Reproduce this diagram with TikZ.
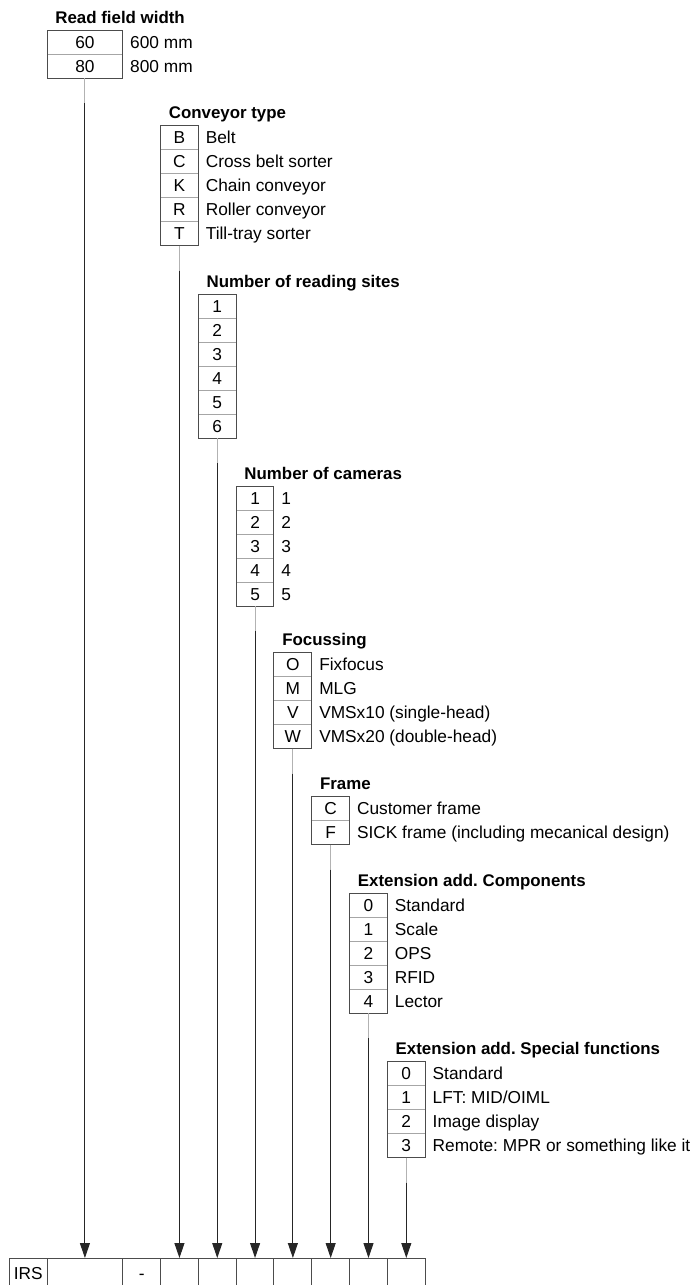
\documentclass[tikz,border=0pt]{standalone}
\usepackage{fontspec}
\setmainfont{Liberation Sans}
\usetikzlibrary{arrows.meta,positioning}
\frenchspacing

\tikzset{
  cell/.style={draw=black!35, line width=0.7pt, minimum width=0.945cm, minimum height=0.6cm,
    inner sep=0pt, outer sep=0pt, text height=8.8pt, text depth=0pt, anchor=north},
  wide/.style={minimum width=1.89cm},
  slot/.style={draw=black!70, line width=0.7pt, minimum width=0.945cm, minimum height=0.75cm,
    inner sep=0pt, outer sep=0pt, text height=8.8pt, text depth=0pt},
  boxline/.style={draw=black!70, line width=0.7pt},
  head/.style={font=\fontsize{12}{14}\selectfont\bfseries, anchor=base west, inner sep=0pt},
  opt/.style={inner sep=0pt, text height=8.8pt, text depth=0pt},
  lead/.style={draw=black!30, line width=0.7pt},
  feed/.style={draw=black!85, line width=0.7pt, -{Triangle[length=0.375cm,width=0.25cm]}},
}

\begin{document}
\frenchspacing
\begin{tikzpicture}[x=0.025cm, y=-0.025cm, font=\fontsize{12.3}{14}\selectfont]
	\useasboundingbox (0,0) rectangle (696,1285);
	% type code row
	\node[slot, anchor=north west] (s1) at (9.3,1258) {IRS};
	\node[slot, wide, right=0pt of s1] (s2) {};
	\node[slot, right=0pt of s2] (s3) {-};
	\foreach \i [remember=\i as \j (initially 3)] in {4,...,10}
		\node[slot, right=0pt of s\j] (s\i) {};
	% read field width
	\foreach \c/\t [count=\i] in {60/600 mm, 80/800 mm} {
		\node[cell, wide] (rfw\i) at (s2 |- 0,{6+24*\i}) {\c};
		\node[opt, right=0.18cm of rfw\i] (rfwt\i) {\t};
	}
	\draw[boxline] (rfw1.north west) rectangle (rfw2.south east);
	\node[head] (rfwh) at ([xshift=0.2cm, yshift=0.175cm]rfw1.north west) {Read field width};
	\coordinate (rfwk) at ([yshift=-0.625cm]rfw2.south);
	\draw[lead] (rfw2.south) -- (rfwk);
	\draw[feed] (rfwk) -- (s2.north);
	% conveyor type
	\foreach \c/\t [count=\i] in {B/Belt, C/Cross belt sorter, K/Chain conveyor, R/Roller conveyor, T/Till-tray sorter} {
		\node[cell] (conv\i) at (s4 |- 0,{101.7+24*\i}) {\c};
		\node[opt, right=0.18cm of conv\i] (convt\i) {\t};
	}
	\draw[boxline] (conv1.north west) rectangle (conv5.south east);
	\node[head] (convh) at ([xshift=0.2cm, yshift=0.175cm]conv1.north west) {Conveyor type};
	\coordinate (convk) at ([yshift=-0.625cm]conv5.south);
	\draw[lead] (conv5.south) -- (convk);
	\draw[feed] (convk) -- (s4.north);
	% number of reading sites
	\foreach \c [count=\i] in {1,...,6}
		\node[cell] (site\i) at (s5 |- 0,{270+24*\i}) {\c};
	\draw[boxline] (site1.north west) rectangle (site6.south east);
	\node[head] (siteh) at ([xshift=0.2cm, yshift=0.175cm]site1.north west) {Number of reading sites};
	\coordinate (sitek) at ([yshift=-0.625cm]site6.south);
	\draw[lead] (site6.south) -- (sitek);
	\draw[feed] (sitek) -- (s5.north);
	% number of cameras
	\foreach \c/\t [count=\i] in {1/1, 2/2, 3/3, 4/4, 5/5} {
		\node[cell] (cam\i) at (s6 |- 0,{462+24*\i}) {\c};
		\node[opt, right=0.18cm of cam\i] (camt\i) {\t};
	}
	\draw[boxline] (cam1.north west) rectangle (cam5.south east);
	\node[head] (camh) at ([xshift=0.2cm, yshift=0.175cm]cam1.north west) {Number of cameras};
	\coordinate (camk) at ([yshift=-0.625cm]cam5.south);
	\draw[lead] (cam5.south) -- (camk);
	\draw[feed] (camk) -- (s6.north);
	% focussing
	\foreach \c/\t [count=\i] in {O/Fixfocus, M/MLG, V/VMSx10 (single-head), W/VMSx20 (double-head)} {
		\node[cell] (foc\i) at (s7 |- 0,{628.7+24*\i}) {\c};
		\node[opt, right=0.18cm of foc\i] (foct\i) {\t};
	}
	\draw[boxline] (foc1.north west) rectangle (foc4.south east);
	\node[head] (foch) at ([xshift=0.2cm, yshift=0.175cm]foc1.north west) {Focussing};
	\coordinate (fock) at ([yshift=-0.625cm]foc4.south);
	\draw[lead] (foc4.south) -- (fock);
	\draw[feed] (fock) -- (s7.north);
	% frame
	\foreach \c/\t [count=\i] in {C/Customer frame, F/SICK frame (including mecanical design)} {
		\node[cell] (frm\i) at (s8 |- 0,{772.7+24*\i}) {\c};
		\node[opt, right=0.18cm of frm\i] (frmt\i) {\t};
	}
	\draw[boxline] (frm1.north west) rectangle (frm2.south east);
	\node[head] (frmh) at ([xshift=0.2cm, yshift=0.175cm]frm1.north west) {Frame};
	\coordinate (frmk) at ([yshift=-0.625cm]frm2.south);
	\draw[lead] (frm2.south) -- (frmk);
	\draw[feed] (frmk) -- (s8.north);
	% extension add. components
	\foreach \c/\t [count=\i] in {0/Standard, 1/Scale, 2/OPS, 3/RFID, 4/Lector} {
		\node[cell] (comp\i) at (s9 |- 0,{869.3+24*\i}) {\c};
		\node[opt, right=0.18cm of comp\i] (compt\i) {\t};
	}
	\draw[boxline] (comp1.north west) rectangle (comp5.south east);
	\node[head] (comph) at ([xshift=0.2cm, yshift=0.175cm]comp1.north west) {Extension add. Components};
	\coordinate (compk) at ([yshift=-0.625cm]comp5.south);
	\draw[lead] (comp5.south) -- (compk);
	\draw[feed] (compk) -- (s9.north);
	% extension add. special functions
	\foreach \c/\t [count=\i] in {0/Standard, 1/{LFT: MID/OIML}, 2/Image display, 3/Remote: MPR or something like it} {
		\node[cell] (spec\i) at (s10 |- 0,{1037.7+24*\i}) {\c};
		\node[opt, right=0.18cm of spec\i] (spect\i) {\t};
	}
	\draw[boxline] (spec1.north west) rectangle (spec4.south east);
	\node[head] (spech) at ([xshift=0.2cm, yshift=0.175cm]spec1.north west) {Extension add. Special functions};
	\coordinate (speck) at ([yshift=-0.625cm]spec4.south);
	\draw[lead] (spec4.south) -- (speck);
	\draw[feed] (speck) -- (s10.north);
\end{tikzpicture}
\end{document}
